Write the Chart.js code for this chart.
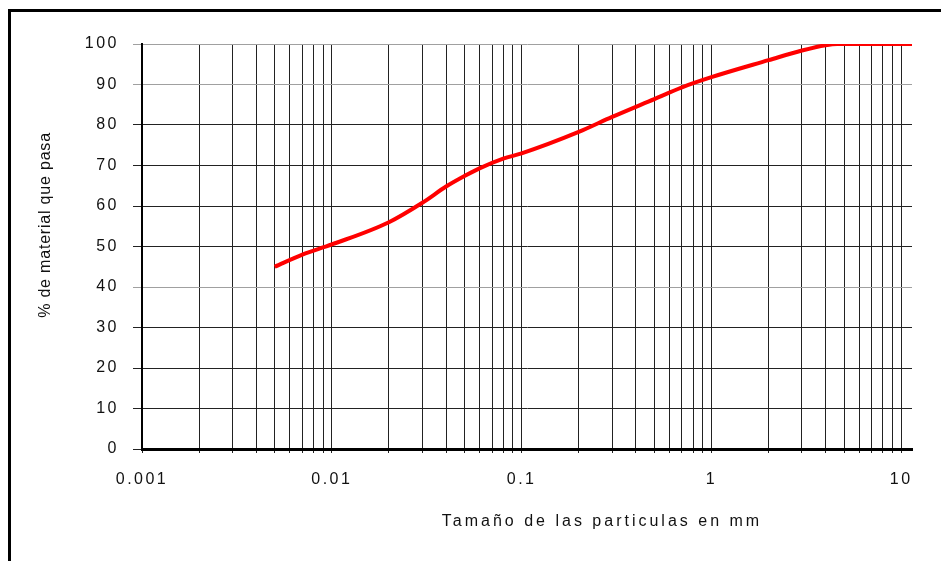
<!DOCTYPE html>
<html>
<head>
<meta charset="utf-8">
<script src="https://cdn.jsdelivr.net/npm/chart.js@4"></script>
<style>
  body { margin: 0; background: #fff; }
  #wrap { position: relative; width: 941px; height: 561px; overflow: hidden; }
  #marco { position: absolute; left: 8px; top: 9px; right: -10px; bottom: -10px;
           border-top: 3px solid #000; border-left: 3px solid #000; pointer-events: none; }
</style>
</head>
<body>
<div id="wrap">
  <canvas id="curva" width="941" height="561"></canvas>
  <div id="marco"></div>
</div>
<script>
const tamanos = [0.005, 0.007, 0.01, 0.02, 0.03, 0.04, 0.05, 0.06, 0.08, 0.1, 0.2, 0.3, 0.5, 0.7, 1, 2, 3, 4, 4.6, 11.4];
const pasa    = [45, 48, 50.5, 56, 60.8, 64.8, 67.4, 69.3, 71.7, 73, 78.3, 82, 86.4, 89.3, 91.8, 96, 98.4, 99.7, 100, 100];

const etiquetasX = ['0.001', '0.01', '0.1', '1', '10'];
const decadas = [0.001, 0.01, 0.1, 1];
const multiplos = [1, 2, 3, 4, 5, 6, 7, 8, 9];
const etiquetasY = [0, 10, 20, 30, 40, 50, 60, 70, 80, 90, 100];
const lineasGrises = [40, 90, 100];

// líneas verticales del papel logarítmico
const marcasX = [];
decadas.forEach(d => multiplos.forEach(m => marcasX.push(parseFloat((d * m).toPrecision(3)))));
marcasX.push(10);

const esPotencia = v => Math.abs(Math.log10(v) - Math.round(Math.log10(v))) < 1e-9;

const textoGris = '#111';
const fuente = { family: "'Liberation Sans', Arial, sans-serif", size: 16 };

const espaciado = {
  id: 'espaciado',
  beforeDraw(chart) { chart.ctx.letterSpacing = '2.5px'; },
  afterDraw(chart) {
    const ctx = chart.ctx;
    ctx.save();
    ctx.letterSpacing = '3px';
    ctx.fillStyle = textoGris;
    ctx.font = "16px 'Liberation Sans', Arial, sans-serif";
    ctx.textAlign = 'center';
    ctx.textBaseline = 'middle';
    ctx.fillText('Tamaño de las particulas en mm', 602, 522);
    ctx.translate(46, 225);
    ctx.rotate(-Math.PI / 2);
    ctx.letterSpacing = '0.8px';
    ctx.fillText('% de material que pasa', 0, 0);
    ctx.restore();
  }
};

new Chart(document.getElementById('curva'), {
  type: 'scatter',
  data: {
    datasets: [{
      data: tamanos.map((t, i) => ({ x: t, y: pasa[i] })),
      showLine: true,
      borderColor: '#ff0000',
      borderWidth: 4,
      pointRadius: 0,
      cubicInterpolationMode: 'monotone'
    }]
  },
  options: {
    responsive: false,
    animation: false,
    layout: { padding: { top: 44, right: 29, left: 0, bottom: 0 } },
    plugins: { legend: { display: false }, tooltip: { enabled: false } },
    scales: {
      x: {
        type: 'logarithmic',
        min: 0.001,
        max: 11.4,
        afterFit: s => { s.height = 112; },
        afterBuildTicks: s => { s.ticks = marcasX.map(v => ({ value: v })); },
        grid: { color: '#222', lineWidth: 1, tickLength: 4 },
        border: { color: '#000', width: 3 },
        ticks: {
          autoSkip: false,
          maxRotation: 0,
          padding: 17,
          color: textoGris,
          font: fuente,
          callback: v => esPotencia(v) ? etiquetasX[Math.round(Math.log10(v)) + 3] : ''
        }
      },
      y: {
        min: 0,
        max: 100,
        afterFit: s => { s.width = 142; },
        afterBuildTicks: s => { s.ticks = etiquetasY.map(v => ({ value: v })); },
        grid: {
          color: c => lineasGrises.includes(c.tick && c.tick.value) ? '#a0a0a0' : '#222',
          lineWidth: 1,
          tickLength: 9
        },
        border: { color: '#000', width: 2 },
        ticks: { padding: 14, color: textoGris, font: fuente }
      }
    }
  },
  plugins: [espaciado]
});
</script>
</body>
</html>
